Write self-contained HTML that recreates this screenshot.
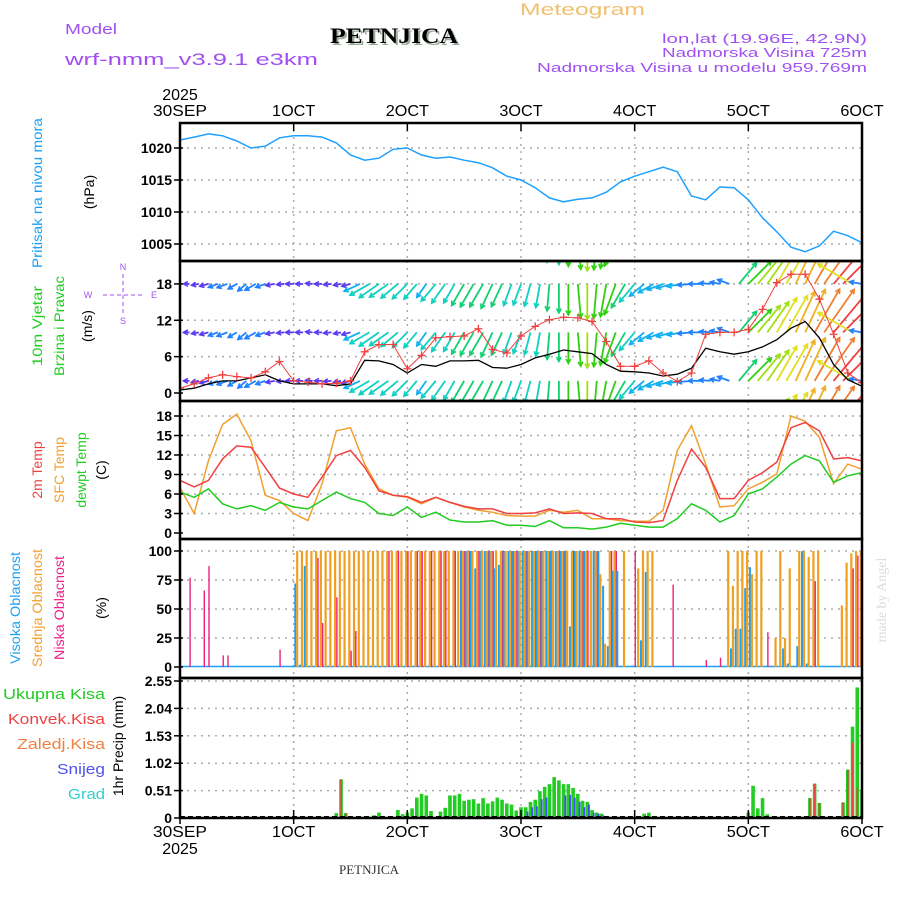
<!DOCTYPE html>
<html><head><meta charset="utf-8"><title>Meteogram PETNJICA</title>
<style>
body{margin:0;background:#fff;}
svg{display:block;font-family:"Liberation Sans",sans-serif;}
</style></head>
<body>
<svg id="chart" width="900" height="900" viewBox="0 0 900 900">
<defs>
<clipPath id="cpP"><rect x="180" y="123" width="682" height="138"/></clipPath>
<clipPath id="cpW"><rect x="180" y="262" width="682" height="139"/></clipPath>
<clipPath id="cpT"><rect x="180" y="401" width="682" height="138"/></clipPath>
<clipPath id="cpC"><rect x="180" y="539" width="682" height="139"/></clipPath>
<clipPath id="cpR"><rect x="180" y="678" width="682" height="140"/></clipPath>
</defs>
<g id="header">
<text x="65" y="34" font-size="15" fill="#a050f0" textLength="52" lengthAdjust="spacingAndGlyphs">Model</text>
<text x="65" y="65" font-size="17" fill="#a050f0" textLength="253" lengthAdjust="spacingAndGlyphs">wrf-nmm_v3.9.1 e3km</text>
<text x="332" y="45" font-size="22" font-weight="bold" font-family="Liberation Serif,serif" fill="#9a9" textLength="128" lengthAdjust="spacingAndGlyphs">PETNJICA</text>
<text x="330" y="43" font-size="22" font-weight="bold" font-family="Liberation Serif,serif" fill="#000" textLength="128" lengthAdjust="spacingAndGlyphs">PETNJICA</text>
<text x="520" y="15" font-size="17" fill="#f0c070" textLength="125" lengthAdjust="spacingAndGlyphs">Meteogram</text>
<text x="867" y="43" font-size="13" fill="#a050f0" text-anchor="end" textLength="205" lengthAdjust="spacingAndGlyphs">lon,lat (19.96E, 42.9N)</text>
<text x="867" y="57" font-size="13" fill="#a050f0" text-anchor="end" textLength="205" lengthAdjust="spacingAndGlyphs">Nadmorska Visina 725m</text>
<text x="867" y="72" font-size="13" fill="#a050f0" text-anchor="end" textLength="330" lengthAdjust="spacingAndGlyphs">Nadmorska Visina u modelu 959.769m</text>
</g>
<g id="grid"></g>
<g id="series"></g>
<g id="frames"></g>
<g id="labels" font-size="14"></g>
<g id="titles">
<text transform="translate(42,193) rotate(-90)" font-size="14" fill="#1ea0f0" text-anchor="middle" textLength="150" lengthAdjust="spacingAndGlyphs">Pritisak na nivou mora</text>
<text transform="translate(94,192) rotate(-90)" font-size="14" fill="#000" text-anchor="middle">(hPa)</text>
<text transform="translate(42,326) rotate(-90)" font-size="14" fill="#22cc22" text-anchor="middle" textLength="80" lengthAdjust="spacingAndGlyphs">10m Vjetar</text>
<text transform="translate(64,326) rotate(-90)" font-size="14" fill="#22cc22" text-anchor="middle" textLength="100" lengthAdjust="spacingAndGlyphs">Brzina i Pravac</text>
<text transform="translate(92,326) rotate(-90)" font-size="14" fill="#000" text-anchor="middle">(m/s)</text>
<g fill="#a050f0" font-size="9" text-anchor="middle">
<text x="123" y="270">N</text><text x="123" y="324">S</text><text x="88" y="298">W</text><text x="154" y="298">E</text>
<line x1="103" y1="295" x2="142" y2="295" stroke="#a050f0" stroke-dasharray="4,3"/>
<line x1="123" y1="274" x2="123" y2="316" stroke="#a050f0" stroke-dasharray="4,3"/>
</g>
<text transform="translate(42,470) rotate(-90)" font-size="14" fill="#f04040" text-anchor="middle">2m Temp</text>
<text transform="translate(64,470) rotate(-90)" font-size="14" fill="#f0a030" text-anchor="middle">SFC Temp</text>
<text transform="translate(86,470) rotate(-90)" font-size="14" fill="#22cc22" text-anchor="middle">dewpt Temp</text>
<text transform="translate(106,470) rotate(-90)" font-size="14" fill="#000" text-anchor="middle">(C)</text>
<text transform="translate(20,608) rotate(-90)" font-size="14" fill="#1ea0f0" text-anchor="middle" textLength="112" lengthAdjust="spacingAndGlyphs">Visoka Oblacnost</text>
<text transform="translate(42,608) rotate(-90)" font-size="14" fill="#f0a030" text-anchor="middle" textLength="118" lengthAdjust="spacingAndGlyphs">Srednja Oblacnost</text>
<text transform="translate(64,608) rotate(-90)" font-size="14" fill="#f0208a" text-anchor="middle" textLength="104" lengthAdjust="spacingAndGlyphs">Niska Oblacnost</text>
<text transform="translate(106,608) rotate(-90)" font-size="14" fill="#000" text-anchor="middle">(%)</text>
<text x="105" y="699" font-size="15" fill="#22cc22" text-anchor="end" textLength="102" lengthAdjust="spacingAndGlyphs">Ukupna  Kisa</text>
<text x="105" y="724" font-size="15" fill="#f04040" text-anchor="end" textLength="97" lengthAdjust="spacingAndGlyphs">Konvek.Kisa</text>
<text x="105" y="749" font-size="15" fill="#f08040" text-anchor="end" textLength="88" lengthAdjust="spacingAndGlyphs">Zaledj.Kisa</text>
<text x="105" y="774" font-size="15" fill="#5050f0" text-anchor="end" textLength="48" lengthAdjust="spacingAndGlyphs">Snijeg</text>
<text x="105" y="799" font-size="15" fill="#30d0d0" text-anchor="end" textLength="37" lengthAdjust="spacingAndGlyphs">Grad</text>
<text transform="translate(123,746) rotate(-90)" font-size="14" fill="#000" text-anchor="middle">1hr Precip (mm)</text>
<text transform="translate(886,600) rotate(-90)" font-size="14" font-family="Liberation Serif,serif" fill="#d8e0d8" text-anchor="middle">made by Angel</text>
<text x="369" y="874" font-size="13" font-family="Liberation Serif,serif" fill="#333" text-anchor="middle">PETNJICA</text>
</g>
</svg>
<script>
// ---- data ----
const dayLabels = ["30SEP","1OCT","2OCT","3OCT","4OCT","5OCT","6OCT"];
const yearLabel = "2025";
const pressTicks = [1005,1010,1015,1020];
const windTicks = [0,6,12,18];
const tempTicks = [0,3,6,9,12,15,18];
const cloudTicks = [0,25,50,75,100];
const precipTicks = [0,0.51,1.02,1.53,2.04,2.55];
// 3-hourly series
const pressure = [1021.25,1021.7,1022.2,1021.9,1021.1,1020,1020.3,1021.6,1021.9,1021.9,1021.7,1020.8,1018.9,1018.1,1018.4,1019.8,1020,1018.9,1018.4,1018.6,1018.1,1017.7,1016.9,1015.6,1015,1013.8,1012.2,1011.6,1012,1012.2,1013.1,1014.7,1015.6,1016.3,1017,1016.3,1012.5,1011.9,1013.9,1013.8,1011.9,1009.1,1006.9,1004.5,1003.8,1004.7,1007,1006.3,1005.2];
const temp2m = [8.1,7.1,8.1,11.4,13.4,13.2,10.1,6.9,6.0,5.5,8.6,11.9,12.7,10.1,6.5,5.8,5.6,4.7,5.5,4.7,4.1,3.7,3.7,3.0,3.0,3.1,3.7,3.0,3.1,3.0,2.2,2.2,1.7,1.6,1.9,8.1,12.9,10.1,5.3,5.3,8.1,9.3,10.9,16.2,17.0,15.7,11.4,11.6,11.1];
const tempSfc = [7.0,3.0,11.1,16.7,18.3,14.2,5.8,5.0,3.0,1.9,7.6,15.7,16.2,10.6,6.8,5.8,5.5,4.5,5.5,4.7,4.0,3.5,3.2,2.7,2.6,2.6,3.5,3.2,3.5,2.2,2.2,1.9,1.8,1.8,3.5,12.7,16.5,10.6,4.0,4.2,6.8,7.8,9.1,18.0,17.2,14.7,7.6,10.6,9.8];
const dewpt = [6.3,5.5,6.8,4.5,3.7,4.2,3.5,4.7,4.0,3.7,5.0,6.3,5.3,4.7,3.0,2.7,4.0,2.4,3.2,2.0,1.7,1.7,1.9,1.2,1.2,1.0,1.9,0.8,0.8,0.6,0.9,1.5,1.2,0.9,0.9,2.2,4.5,3.5,1.7,2.7,6.0,6.8,8.6,10.6,11.9,11.1,7.8,8.8,9.3];
const windSpeed = [0.5,0.8,1.5,2.0,2.0,2.5,3.0,2.0,1.5,1.5,1.5,1.2,1.5,5.4,5.3,4.7,3.3,4.7,4.4,5.3,5.3,5.4,4.2,4.1,4.7,5.8,6.4,7.1,6.8,6.5,4.7,3.6,3.5,3.3,2.8,3.1,4.1,7.4,6.8,6.4,6.8,7.6,8.8,10.7,11.8,9.1,4.7,2.2,1.1];
const windGust = [0.8,1.5,2.5,3.0,2.7,2.5,3.5,5.2,2.0,1.8,1.5,1.6,2.0,6.8,8.0,8.0,4.0,6.2,9.1,9.3,9.4,10.6,7.2,6.6,9.4,11.0,12.1,12.5,12.4,11.8,8.5,4.4,4.4,5.3,3.3,1.9,3.3,9.7,10.0,10.0,10.5,13.8,18.2,19.6,19.6,15.5,9.7,3.3,1.7];
// 2-hourly wind vectors
const arrowSpeed = [1.0,1.2,1.5,1.8,2.0,2.2,2.0,2.2,2.5,2.0,1.8,1.5,1.6,1.5,1.4,1.5,1.6,1.5,1.8,3.5,4.5,4.8,4.6,4.4,4.2,4.0,3.3,4.5,4.7,4.4,5.0,5.3,5.3,5.4,5.0,4.6,4.5,4.6,4.8,5.4,5.8,6.2,6.8,7.1,6.9,6.7,6.5,5.5,4.7,3.8,3.5,3.4,3.3,3.0,2.8,2.5,2.2,2.0,2.5,5.5,6.5,7.0,7.5,8.0,8.5,9.0,9.5,10.0,10.5,11.0,11.5,8.0,2.5];
const arrowDir = [100,90,80,75,70,70,60,50,60,70,80,85,90,90,95,90,85,80,75,65,60,55,55,50,45,40,35,40,35,30,30,30,30,25,25,20,20,15,10,5,0,0,355,0,5,10,20,30,40,50,60,70,75,80,85,90,95,100,110,220,225,220,215,210,210,205,205,210,215,220,225,120,100];
// hourly cloud cover (%)
const cloudHigh = [
0,0,0,0,0,0,0,0,0,0,0,0,0,0,0,0,0,0,0,0,0,0,0,0,
72,2,87,0,0,0,0,0,0,0,0,0,0,0,0,0,0,0,0,0,0,0,0,0,
0,0,0,0,0,0,0,0,0,0,0,100,100,100,85,100,100,100,85,88,100,100,100,100,
100,100,100,100,100,100,100,100,100,100,35,100,100,100,1,100,100,70,18,83,83,0,0,0,
0,23,82,0,0,0,0,0,0,0,0,0,0,0,0,0,0,0,0,0,16,33,33,68,
86,0,0,0,0,0,0,16,3,0,18,100,3,0,0,0,0,0,0,0,0,0,0,0,0];
const cloudMid = [
0,0,0,0,0,0,0,0,0,0,0,0,0,0,0,0,0,0,0,0,0,0,0,0,
0,100,100,100,100,100,100,100,100,100,100,100,100,100,100,100,100,100,100,100,100,100,100,100,
100,100,100,100,100,100,100,100,100,100,100,100,100,100,100,100,100,100,100,100,100,100,100,100,
100,100,100,100,100,100,100,100,100,100,100,100,100,100,100,100,100,80,20,100,100,0,100,0,
0,85,100,100,100,0,0,0,0,0,0,0,0,0,0,0,0,0,0,0,100,70,100,100,
100,80,100,100,0,0,25,100,25,85,0,100,100,95,100,100,0,0,0,0,53,90,98,100,100];
const cloudLow = [
0,0,77,0,0,66,87,0,0,10,10,0,0,0,0,0,0,0,0,0,0,15,0,0,
0,0,0,0,0,94,38,0,0,60,0,0,14,31,0,0,0,0,0,0,100,0,100,0,
100,0,100,100,0,100,0,100,100,0,100,0,100,100,0,100,0,100,100,0,100,0,100,100,
0,100,0,100,100,0,100,0,100,100,0,100,0,100,100,0,100,0,0,100,100,0,0,0,
100,0,0,0,0,0,0,0,71,0,0,0,0,0,0,6,0,0,8,0,0,0,0,0,
0,0,0,0,30,0,0,0,0,0,0,0,0,0,74,0,0,0,0,0,0,0,85,96,0];
// hourly precipitation (mm)
const precipTotal = [
0,0,0,0,0,0,0,0,0,0,0,0,0,0,0,0,0,0,0,0,0,0,0,0,
0,0,0,0,0,0,0,0,0,0.09,0.72,0.09,0,0,0,0.02,0.02,0.05,0.1,0,0,0.02,0.15,0.07,
0.1,0.18,0.38,0.45,0.42,0.13,0,0.12,0.19,0.42,0.42,0.45,0.32,0.34,0.35,0.27,0.37,0.27,0.31,0.38,0.34,0.27,0.25,0.14,
0.2,0.2,0.3,0.34,0.5,0.58,0.63,0.76,0.7,0.63,0.63,0.56,0.45,0.32,0.3,0.15,0.1,0.08,0,0,0,0,0,0,
0,0,0.08,0.1,0,0,0,0,0,0,0,0,0,0,0,0,0,0,0,0,0,0,0,0,
0.1,0.6,0.18,0.37,0.07,0,0,0,0,0,0,0,0,0.37,0.64,0.28,0,0,0,0,0.29,0.9,1.7,2.43,0.53];
const precipConv = [
0,0,0,0,0,0,0,0,0,0,0,0,0,0,0,0,0,0,0,0,0,0,0,0,
0,0,0,0,0,0,0,0,0,0,0.72,0.09,0,0,0,0,0,0,0,0,0,0,0,0,
0,0,0,0,0,0,0,0,0,0,0,0,0,0,0,0,0,0,0,0,0,0,0,0,
0,0,0,0,0,0,0,0,0,0,0,0,0,0,0,0,0,0,0,0,0,0,0,0,
0,0,0,0,0,0,0,0,0,0,0,0,0,0,0,0,0,0,0,0,0,0,0,0,
0,0,0,0,0,0,0,0,0,0,0,0,0,0.37,0.64,0.28,0,0,0,0,0.29,0.9,1.4,0.55,0.53];
const precipSnow = [
0,0,0,0,0,0,0,0,0,0,0,0,0,0,0,0,0,0,0,0,0,0,0,0,
0,0,0,0,0,0,0,0,0,0,0,0,0,0,0,0,0,0,0,0,0,0,0,0,
0,0,0,0,0,0,0,0,0,0,0,0,0,0,0,0,0,0,0,0,0,0,0,0,
0,0.12,0.2,0.22,0.35,0.38,0,0,0,0.42,0.43,0.38,0.3,0.2,0.25,0.1,0.08,0.05,0,0,0,0,0,0,
0,0,0,0,0,0,0,0,0,0,0,0,0,0,0,0,0,0,0,0,0,0,0,0,
0,0,0,0,0,0,0,0,0,0,0,0,0,0,0,0,0,0,0,0,0,0,0,0,0];

// ---- scales ----
const X0=180, X1=862, HOURS=144;
const xH = h => X0 + h*(X1-X0)/HOURS;
const yP = p => 148 + (1020-p)*6.4;
const yW = v => 393 - v*6.06;
const yT = t => 533 - t*6.5;
const yC = c => 667 - c*1.16;
const yR = r => 818 - r*(137/2.55);
const NS="http://www.w3.org/2000/svg";
function mk(tag, attrs, parent){const e=document.createElementNS(NS,tag);for(const k in attrs)e.setAttribute(k,attrs[k]);parent.appendChild(e);return e;}
const grid=document.getElementById('grid'), series=document.getElementById('series'), frames=document.getElementById('frames'), labels=document.getElementById('labels');

const panels=[{t:123,b:261,ticks:pressTicks,y:yP,name:'pressure'},
{t:261,b:401,ticks:windTicks,y:yW,name:'wind'},
{t:401,b:539,ticks:tempTicks,y:yT,name:'temp'},
{t:539,b:678,ticks:cloudTicks,y:yC,name:'cloud'},
{t:678,b:818,ticks:precipTicks,y:yR,name:'precip'}];
panels.forEach(p=>{
  for(let d=1;d<6;d++){
    const l=mk('line',{x1:xH(d*24),x2:xH(d*24),y1:p.t,y2:p.b,stroke:'#aaa','stroke-width':1.5,'stroke-dasharray':'2,5'},grid);
    
    
  }
  p.ticks.forEach(v=>{
    const y=p.y(v);
    if(v!==0 || p.name==='pressure'){
      const g=mk('line',{x1:X0,x2:X1,y1:y,y2:y,stroke:'#aaa','stroke-width':1.5,'stroke-dasharray':'2,5'},grid);
      
      
    }
    mk('line',{x1:X0-6,x2:X0+3,y1:y,y2:y,stroke:'#000','stroke-width':1.5},frames);
    const t=mk('text',{x:X0-8,y:y+5,'text-anchor':'end','font-weight':'bold'},labels);
    t.textContent=v;
    
    
  });
  const r=mk('rect',{x:X0,y:p.t,width:X1-X0,height:p.b-p.t,fill:'none',stroke:'#000','stroke-width':2.5},frames);
  
  
});
dayLabels.forEach((lab,d)=>{
  const x=xH(d*24);
  mk('line',{x1:x,x2:x,y1:123,y2:131,stroke:'#000','stroke-width':1.5},frames);
  mk('line',{x1:x,x2:x,y1:810,y2:824,stroke:'#000','stroke-width':1.5},frames);
  const t1=mk('text',{x:x,y:116,'text-anchor':'middle','font-size':16,'textLength':lab.length*10.8,'lengthAdjust':'spacingAndGlyphs'},labels);
  t1.textContent=lab;
  
  
  const t2=mk('text',{x:x,y:837,'text-anchor':'middle','font-size':16,'textLength':lab.length*10.8,'lengthAdjust':'spacingAndGlyphs'},labels);
  t2.textContent=lab;
  
  
});
[100,854].forEach(y=>{
  const t=mk('text',{x:180,y:y,'text-anchor':'middle','font-size':16},labels);
  t.textContent=yearLabel;
  
  
});

function line(arr, step, yf, color, clip, name, w){
  const pts=arr.map((v,i)=>xH(i*step).toFixed(1)+','+yf(v).toFixed(1)).join(' ');
  const pl=mk('polyline',{points:pts,fill:'none',stroke:color,'stroke-width':w||1.5,'clip-path':'url(#'+clip+')'},series);
  
  
  return pl;
}
line(pressure,3,yP,'#1ea0ff','cpP','pressure-line');
function speedColor(s){
  const cols=['#8a2be2','#5a3cf0','#2080ff','#10b0f0','#10d0c0','#10d070','#30d010','#a0e010','#e0e020','#f0b020','#f08030','#f04040','#f0206a'];
  return cols[Math.max(0,Math.min(cols.length-1,Math.floor(s)))];
}
const rows=[26,18,10,2,-6];
const gW=mk('g',{'clip-path':'url(#cpW)'},series);


rows.forEach(rv=>{
  arrowSpeed.forEach((s,j)=>{
    const rad=arrowDir[j]*Math.PI/180, L=s*5;
    const x=xH(j*2), y=yW(rv);
    const dx=-Math.sin(rad)*L, dy=Math.cos(rad)*L;
    const c=speedColor(s);
    const a=mk('line',{x1:x,y1:y,x2:x+dx,y2:y+dy,stroke:c,'stroke-width':1.8},gW);
    
    
    const ang=Math.atan2(dy,dx), hl=5;
    const hx=x+dx, hy=y+dy;
    const h=mk('polyline',{points:`${hx-hl*Math.cos(ang-0.5)},${hy-hl*Math.sin(ang-0.5)} ${hx},${hy} ${hx-hl*Math.cos(ang+0.5)},${hy-hl*Math.sin(ang+0.5)}`,fill:'none',stroke:c,'stroke-width':1.6},gW);
    
    
  });
});
line(windSpeed,3,yW,'#000','cpW','wind-speed-line',1.3);
line(windGust,3,yW,'#f04040','cpW','wind-gust-line',1);
windGust.forEach((v,i)=>{
  const x=xH(i*3), y=yW(v);
  const m=mk('path',{d:`M${x-4},${y}H${x+4}M${x},${y-4}V${y+4}`,stroke:'#f04040','stroke-width':1.3,'clip-path':'url(#cpW)'},series);
  
  
});
line(tempSfc,3,yT,'#f0a030','cpT','sfc-temp-line');
line(temp2m,3,yT,'#f04040','cpT','temp-2m-line');
line(dewpt,3,yT,'#22cc22','cpT','dewpoint-line');
const gC=mk('g',{'clip-path':'url(#cpC)'},series);


mk('line',{x1:X0,x2:X1,y1:666.5,y2:666.5,stroke:'#1ea0f0','stroke-width':1.5},gC);
for(let h=0;h<=HOURS;h++){
  const x=xH(h);
  [[cloudMid,'#f0a020',-1.2,2.2,'mid-cloud-bar'],[cloudLow,'#f0207a',0.6,1.4,'low-cloud-bar'],[cloudHigh,'#1ea0f0',1.6,2,'high-cloud-bar']].forEach(([arr,col,off,w,nm])=>{
    const v=arr[h]||0; if(v<=0) return;
    const b=mk('rect',{x:x+off-w/2,y:yC(v),width:w,height:yC(0)-yC(v),fill:col},gC);
    
    
  });
}
const gR=mk('g',{'clip-path':'url(#cpR)'},series);


for(let h=0;h<=HOURS;h++){
  const x=xH(h);
  const t=precipTotal[h]||0, c=precipConv[h]||0, s=precipSnow[h]||0;
  if(t>0){const b=mk('rect',{x:x-1.8,y:yR(t),width:3.6,height:yR(0)-yR(t),fill:'#22cc22'},gR);
    
    }
  if(c>0){const b=mk('rect',{x:x-0.8,y:yR(c),width:1.6,height:yR(0)-yR(c),fill:'#f04040'},gR);
    
    }
  if(s>0){const b=mk('rect',{x:x+0.8,y:yR(s),width:1.8,height:yR(0)-yR(s),fill:'#4050f0'},gR);
    
    }
}
mk('line',{x1:X0,x2:X1,y1:817,y2:817,stroke:'#000','stroke-width':2,'stroke-dasharray':'5,3'},frames);
</script>
</body></html>
